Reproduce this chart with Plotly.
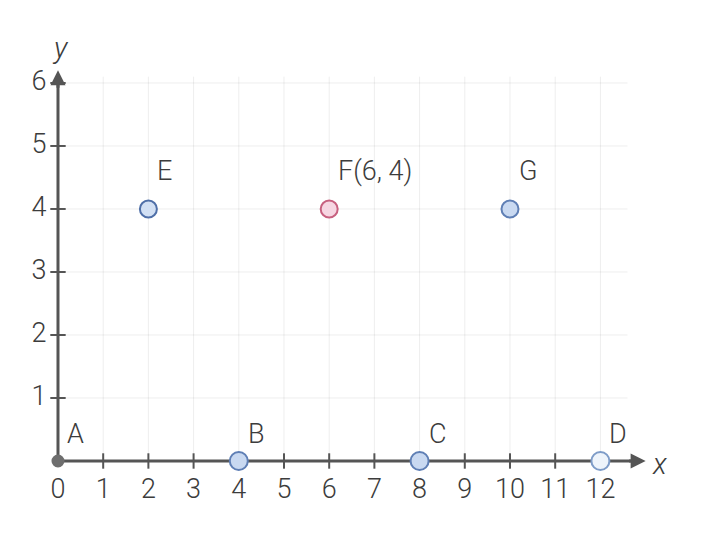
import plotly.graph_objects as go

# tick values on each axis
x_ticks = list(range(0, 13))
y_ticks = list(range(1, 7))

# labelled points
point_names = ["A", "B", "C", "D", "E", "F(6, 4)", "G"]
point_x = [0, 4, 8, 12, 2, 6, 10]
point_y = [0, 0, 0, 0, 4, 4, 4]

# styling per point
point_fill = ["#6e6e6e", "#c9d9f1", "#c9d9f1", "#eef4fb", "#d2e0f4", "#f6d6e2", "#c9d9f1"]
point_edge = ["#6e6e6e", "#5f7fb5", "#5f7fb5", "#7e9cc8", "#4f6fa8", "#c7607f", "#5f7fb5"]
point_size = [11, 18, 18, 18, 17, 17, 17]

FONT = "Roboto, Liberation Sans Narrow, sans-serif"
AXIS = "#555555"
TXT = "#3c3c3c"
GRID = "rgba(0,0,0,0.07)"

fig = go.Figure()

# light grid
shapes = []
for xv in x_ticks[1:]:
    shapes.append(dict(type="line", xref="x", yref="y", x0=xv, x1=xv, y0=0, y1=6.1,
                       line=dict(color=GRID, width=1), layer="below"))
for yv in y_ticks:
    shapes.append(dict(type="line", xref="x", yref="y", x0=0, x1=12.6, y0=yv, y1=yv,
                       line=dict(color=GRID, width=1), layer="below"))

# axis lines (under the points)
fig.add_trace(go.Scatter(x=[0, 12.8], y=[0, 0], mode="lines",
                         line=dict(color=AXIS, width=3), hoverinfo="skip"))
fig.add_trace(go.Scatter(x=[0, 0], y=[0, 6.05], mode="lines",
                         line=dict(color=AXIS, width=3), hoverinfo="skip"))

annotations = [
    # arrow heads
    dict(x=13.0, y=0, ax=12.6, ay=0, xref="x", yref="y", axref="x", ayref="y",
         showarrow=True, arrowhead=2, arrowsize=1, arrowwidth=3, arrowcolor=AXIS, text=""),
    dict(x=0, y=6.2, ax=0, ay=5.9, xref="x", yref="y", axref="x", ayref="y",
         showarrow=True, arrowhead=2, arrowsize=1, arrowwidth=3, arrowcolor=AXIS, text=""),
    dict(x=0.05, y=6.55, xref="x", yref="y", text="<i>y</i>", showarrow=False,
         font=dict(family=FONT, size=29, color=TXT, weight=300)),
    dict(x=13.3, y=-0.05, xref="x", yref="y", text="<i>x</i>", showarrow=False,
         font=dict(family=FONT, size=29, color=TXT, weight=300)),
]

# point labels
for name, px, py in zip(point_names, point_x, point_y):
    annotations.append(dict(x=px, y=py, xref="x", yref="y", text=name, showarrow=False,
                            xanchor="left", yanchor="middle", xshift=7,
                            yshift=27 if py == 0 else 38,
                            font=dict(family=FONT, size=27, color=TXT, weight=300)))

# tick marks
fig.add_trace(go.Scatter(x=x_ticks[1:], y=[0] * len(x_ticks[1:]), mode="markers",
                         marker=dict(symbol="line-ns", size=11, line=dict(width=2, color=AXIS)),
                         hoverinfo="skip"))
fig.add_trace(go.Scatter(x=[0] * len(y_ticks), y=y_ticks, mode="markers",
                         marker=dict(symbol="line-ew", size=11, line=dict(width=2, color=AXIS)),
                         hoverinfo="skip"))

# tick labels
fig.add_trace(go.Scatter(x=x_ticks, y=[-0.48] * len(x_ticks), mode="text",
                         text=[str(v) for v in x_ticks],
                         textfont=dict(family=FONT, size=27, color=TXT, weight=300),
                         hoverinfo="skip"))
fig.add_trace(go.Scatter(x=[-0.42] * len(y_ticks), y=y_ticks, mode="text",
                         text=[str(v) for v in y_ticks],
                         textfont=dict(family=FONT, size=27, color=TXT, weight=300),
                         hoverinfo="skip"))

# points
fig.add_trace(go.Scatter(x=point_x, y=point_y, mode="markers", text=point_names,
                         marker=dict(size=point_size, color=point_fill, opacity=1,
                                     line=dict(width=2, color=point_edge)),
                         hovertemplate="%{text}: (%{x}, %{y})<extra></extra>"))

fig.update_layout(
    width=695, height=526,
    margin=dict(l=0, r=0, t=0, b=0),
    paper_bgcolor="#ffffff", plot_bgcolor="#ffffff",
    showlegend=False,
    xaxis=dict(range=[-1.106, 14.27], visible=False, fixedrange=True),
    yaxis=dict(range=[-1.159, 7.19], visible=False, fixedrange=True),
    shapes=shapes,
    annotations=annotations,
)

fig.write_html("out.html")
